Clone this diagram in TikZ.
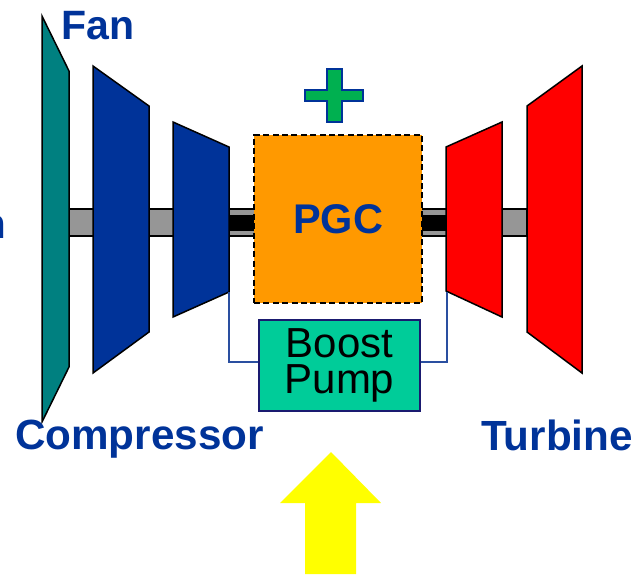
\documentclass[tikz,border=0pt]{standalone}
\usepackage{fontspec}
\setmainfont{Liberation Sans}
\usepackage{tikz}
\usetikzlibrary{positioning}
\definecolor{darkblue}{HTML}{003399}
\definecolor{fanteal}{HTML}{008080}
\definecolor{pgcorange}{HTML}{FF9900}
\definecolor{pumpgreen}{HTML}{00CC99}
\definecolor{plusgreen}{HTML}{00B050}
\definecolor{shaftgray}{HTML}{969696}
\definecolor{pipeblue}{HTML}{2A4FA0}
\definecolor{pumpline}{HTML}{1A1A70}
\definecolor{arrowyellow}{HTML}{FFFF00}

\begin{document}
\begin{tikzpicture}[x=1pt,y=-1pt,node distance=146.5pt,
		stage/.style={draw=black,line width=1.5pt,line join=miter},
		lbl/.style={font=\bfseries\fontsize{42.2}{42.2}\selectfont,text=darkblue,inner sep=0pt,anchor=base west},
		pipe/.style={draw=pipeblue,line width=1.5pt}]
	\useasboundingbox (0,0) rectangle (636,574);
	% shaft
	\path[fill=shaftgray,draw=black,line width=1.5pt] (69,209) rectangle (527,236);
	\fill[black] (229,215) rectangle (254,231);
	\fill[black] (422,215) rectangle (446,231);
	% stages
	\draw[stage,fill=fanteal] (42,16) -- (69,71) -- (69,367) -- (42,422) -- cycle;
	\draw[stage,fill=darkblue] (93,66) -- (149,106) -- (149,332) -- (93,373) -- cycle;
	\draw[stage,fill=darkblue] (173,122) -- (229,147) -- (229,292) -- (173,317) -- cycle;
	\draw[stage,fill=red] (446,147) -- (502,122) -- (502,317) -- (446,291) -- cycle;
	\draw[stage,fill=red] (527,106) -- (582,66) -- (582,373) -- (527,332) -- cycle;
	\coordinate (compout) at (229,292);
	\coordinate (turbin) at (447,292);
	% core
	\node[draw=black,fill=pgcorange,line width=1.5pt,dash pattern=on 6pt off 3.4pt,minimum width=168pt,minimum height=168pt,inner sep=0pt,
		font=\bfseries\fontsize{41.5}{41.5}\selectfont,text=darkblue] (pgc) at (338,219) {PGC};
	\node[draw=pumpline,fill=pumpgreen,line width=1.5pt,minimum width=161pt,minimum height=91pt,inner sep=0pt,align=center,
		font=\fontsize{42}{35.5}\selectfont] (pump) [below of=pgc,xshift=1.5pt] {Boost\\Pump};
	\path[pipe] (compout) |- ([yshift=3.5pt]pump.west);
	\path[pipe] (turbin) |- ([yshift=3.5pt]pump.east);
	% labels
	\node[lbl,font=\bfseries\fontsize{41}{41}\selectfont] (fan) at (61,39) {Fan};
	\node[lbl] (comp) at (15,449) {Compressor};
	\node[lbl] (turb) at (481,450) {Turbine};
	\node[lbl,anchor=base east] (cut) at (6,238) {n};
	% plus and arrow
	\draw[draw=darkblue,fill=plusgreen,line width=2pt] (327,69) -- (342,69) -- (342,90) -- (363,90) -- (363,101) -- (342,101) -- (342,122) -- (327,122) -- (327,101) -- (305,101) -- (305,90) -- (327,90) -- cycle;
	\fill[arrowyellow] (331,452) -- (381,503) -- (356,503) -- (356,574) -- (305,574) -- (305,503) -- (280,503) -- cycle;
\end{tikzpicture}
\end{document}
